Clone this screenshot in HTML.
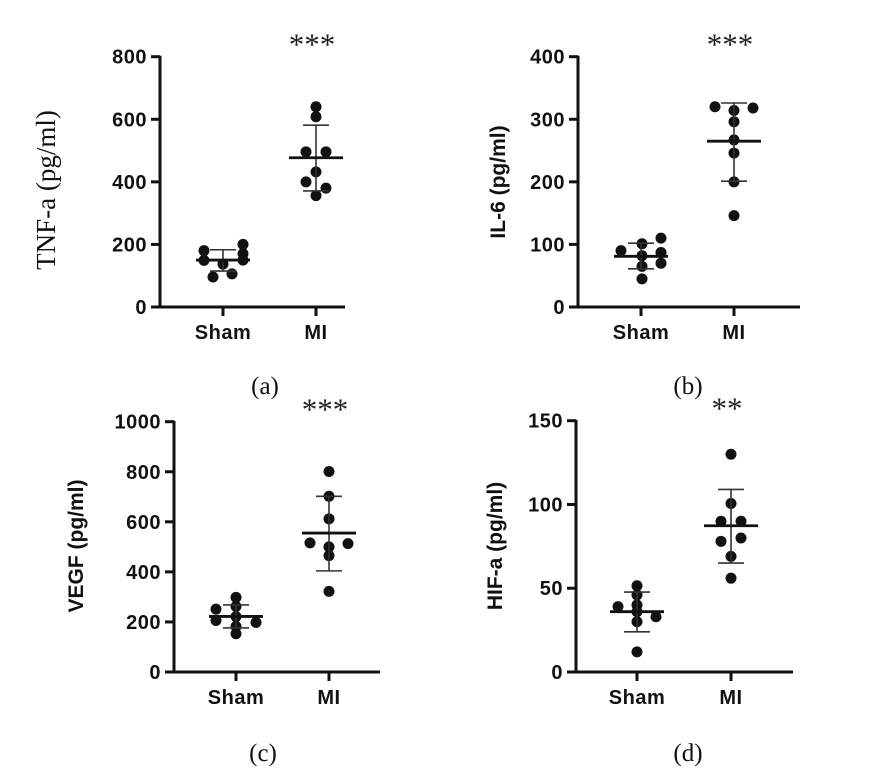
<!DOCTYPE html>
<html><head><meta charset="utf-8">
<style>
html,body{margin:0;padding:0;background:#fff;}
svg{display:block;}
.tk{font-family:"Liberation Sans",Arial,sans-serif;font-weight:bold;font-size:20px;fill:#111;letter-spacing:0.5px;}
.cap{font-family:"Liberation Serif",serif;font-size:25px;fill:#111;}
</style></head>
<body>
<svg id="fig" width="875" height="783" viewBox="0 0 875 783" xmlns="http://www.w3.org/2000/svg"></svg>
<script>
const categories = ["Sham", "MI"];
const tnfSham = [180, 200, 149, 137, 170, 96, 106, 150];
const tnfMI = [640, 608, 496, 496, 432, 400, 380, 356];
const tnfMean = [150, 477];
const tnfSD = [[115, 183], [371, 581]];
const il6Sham = [90, 101, 110, 82, 87, 65, 70, 45];
const il6MI = [320, 318, 314, 296, 267, 246, 200, 146];
const il6Mean = [81, 265];
const il6SD = [[61, 102], [201, 326]];
const vegfSham = [298, 251, 262, 221, 206, 198, 182, 153];
const vegfMI = [801, 702, 612, 516, 513, 500, 465, 322];
const vegfMean = [222, 555];
const vegfSD = [[176, 268], [404, 702]];
const hifSham = [51.5, 46, 39, 40, 36, 33, 30, 12];
const hifMI = [130, 100.6, 90, 90, 78, 80, 69, 56];
const hifMean = [36, 87.3];
const hifSD = [[24, 47.7], [65, 109]];
const tnfTicks = [0, 200, 400, 600, 800];
const il6Ticks = [0, 100, 200, 300, 400];
const vegfTicks = [0, 200, 400, 600, 800, 1000];
const hifTicks = [0, 50, 100, 150];
// horizontal jitter offsets (layout only)
const jitShamA = [-19, 20, -19, 0, 20, -10, 9, 20];
const jitMIA = [0, 0, -10, 10, 0, -10, 10, 0];
const jitShamB = [-20, 1, 20, 1, 20, 1, 20, 1];
const jitMIB = [-19, 19, 0, 0, 0, 0, 0, 0];
const jitShamC = [0, -20, 0, 0, -20, 20, 0, 0];
const jitMIC = [0, 0, 0, -19, 19, 0, 0, 0];
const jitShamD = [0, 0, -19, 0, 0, 19, 0, 0];
const jitMID = [0, 0, -10, 10, -10, 10, 0, 0];

const NS = "http://www.w3.org/2000/svg";
const svg = document.getElementById("fig");
function mk(tag, attrs, parent) {
  const e = document.createElementNS(NS, tag);
  for (const k in attrs) e.setAttribute(k, attrs[k]);
  (parent || svg).appendChild(e);
  return e;
}

function panel(p) {
  const g = mk("g", {});
  
  
  const y = v => p.y0 - (v / p.max) * (p.y0 - p.yTop);
  const xs = [p.xS, p.xM];
  const ya = mk("line", {x1: p.ax, y1: p.yTop - 1, x2: p.ax, y2: p.y0 + 1.5, stroke: "#111", "stroke-width": 3}, g);
  
  
  const xa = mk("line", {x1: p.ax - 1.5, y1: p.y0, x2: p.xEnd, y2: p.y0, stroke: "#111", "stroke-width": 3}, g);
  
  
  p.ticks.forEach(t => {
    mk("line", {x1: p.ax - 9, y1: y(t), x2: p.ax, y2: y(t), stroke: "#111", "stroke-width": 3}, g);
    const tl = mk("text", {x: p.ax - 13, y: y(t) + 7, "text-anchor": "end", class: "tk"}, g);
    tl.textContent = t;
    
    
  });
  categories.forEach((c, i) => {
    mk("line", {x1: xs[i], y1: p.y0, x2: xs[i], y2: p.y0 + 9, stroke: "#111", "stroke-width": 3}, g);
    const cl = mk("text", {x: xs[i], y: p.y0 + 32, "text-anchor": "middle", class: "tk"}, g);
    cl.textContent = c;
    
    
  });
  [p.sham, p.mi].forEach((arr, i) => {
    const jit = i === 0 ? p.jS : p.jM;
    arr.forEach((v, k) => {
      const d = mk("circle", {cx: xs[i] + jit[k], cy: y(v), r: 5.5, fill: "#111"}, g);
      
      
    });
  });
  xs.forEach((x, i) => {
    const sd = mk("line", {x1: x, y1: y(p.sd[i][0]), x2: x, y2: y(p.sd[i][1]), stroke: "#333", "stroke-width": 1.6}, g);
    
    
    p.sd[i].forEach(v => mk("line", {x1: x - 13, y1: y(v), x2: x + 13, y2: y(v), stroke: "#333", "stroke-width": 1.6}, g));
    const m = mk("line", {x1: x - 27, y1: y(p.mean[i]), x2: x + 27, y2: y(p.mean[i]), stroke: "#111", "stroke-width": 2.8}, g);
    
    
  });
  const yt = mk("text", {x: 0, y: 0, "text-anchor": "middle",
    transform: "translate(" + p.lx + "," + p.ly + ") rotate(-90)",
    style: p.serif ? "font-family:'Liberation Serif',serif;font-size:27px;fill:#111" :
      "font-family:'Liberation Sans',Arial,sans-serif;font-weight:bold;font-size:21px;fill:#111"}, g);
  yt.textContent = p.title;
  
  
  const s = mk("text", {x: p.xM - 4, y: p.yTop - 2, "text-anchor": "middle",
    style: "font-family:'Liberation Serif',serif;font-size:31px;fill:#222"}, g);
  s.textContent = p.sig;
  
  
  const c = mk("text", {x: p.cx, y: p.cy, "text-anchor": "middle", class: "cap"}, g);
  c.textContent = p.cap;
  
  
}

panel({id: "tnf", ax: 160, yTop: 56.7, y0: 307, max: 800, xS: 223, xM: 316, xEnd: 345,
  ticks: tnfTicks, sham: tnfSham, mi: tnfMI, mean: tnfMean, sd: tnfSD, jS: jitShamA, jM: jitMIA,
  title: "TNF-a (pg/ml)", serif: true, lx: 55, ly: 190, sig: "***", cap: "(a)", cx: 265, cy: 394});
panel({id: "il6", ax: 578, yTop: 56.7, y0: 307, max: 400, xS: 641, xM: 734, xEnd: 800,
  ticks: il6Ticks, sham: il6Sham, mi: il6MI, mean: il6Mean, sd: il6SD, jS: jitShamB, jM: jitMIB,
  title: "IL-6 (pg/ml)", serif: false, lx: 505, ly: 182, sig: "***", cap: "(b)", cx: 688, cy: 394});
panel({id: "vegf", ax: 174, yTop: 421.7, y0: 672, max: 1000, xS: 236, xM: 329, xEnd: 380,
  ticks: vegfTicks, sham: vegfSham, mi: vegfMI, mean: vegfMean, sd: vegfSD, jS: jitShamC, jM: jitMIC,
  title: "VEGF (pg/ml)", serif: false, lx: 83, ly: 546, sig: "***", cap: "(c)", cx: 263, cy: 761});
panel({id: "hif", ax: 576, yTop: 420.7, y0: 672, max: 150, xS: 637, xM: 731, xEnd: 793,
  ticks: hifTicks, sham: hifSham, mi: hifMI, mean: hifMean, sd: hifSD, jS: jitShamD, jM: jitMID,
  title: "HIF-a (pg/ml)", serif: false, lx: 502, ly: 546, sig: "**", cap: "(d)", cx: 688, cy: 761});
</script>
</body></html>
